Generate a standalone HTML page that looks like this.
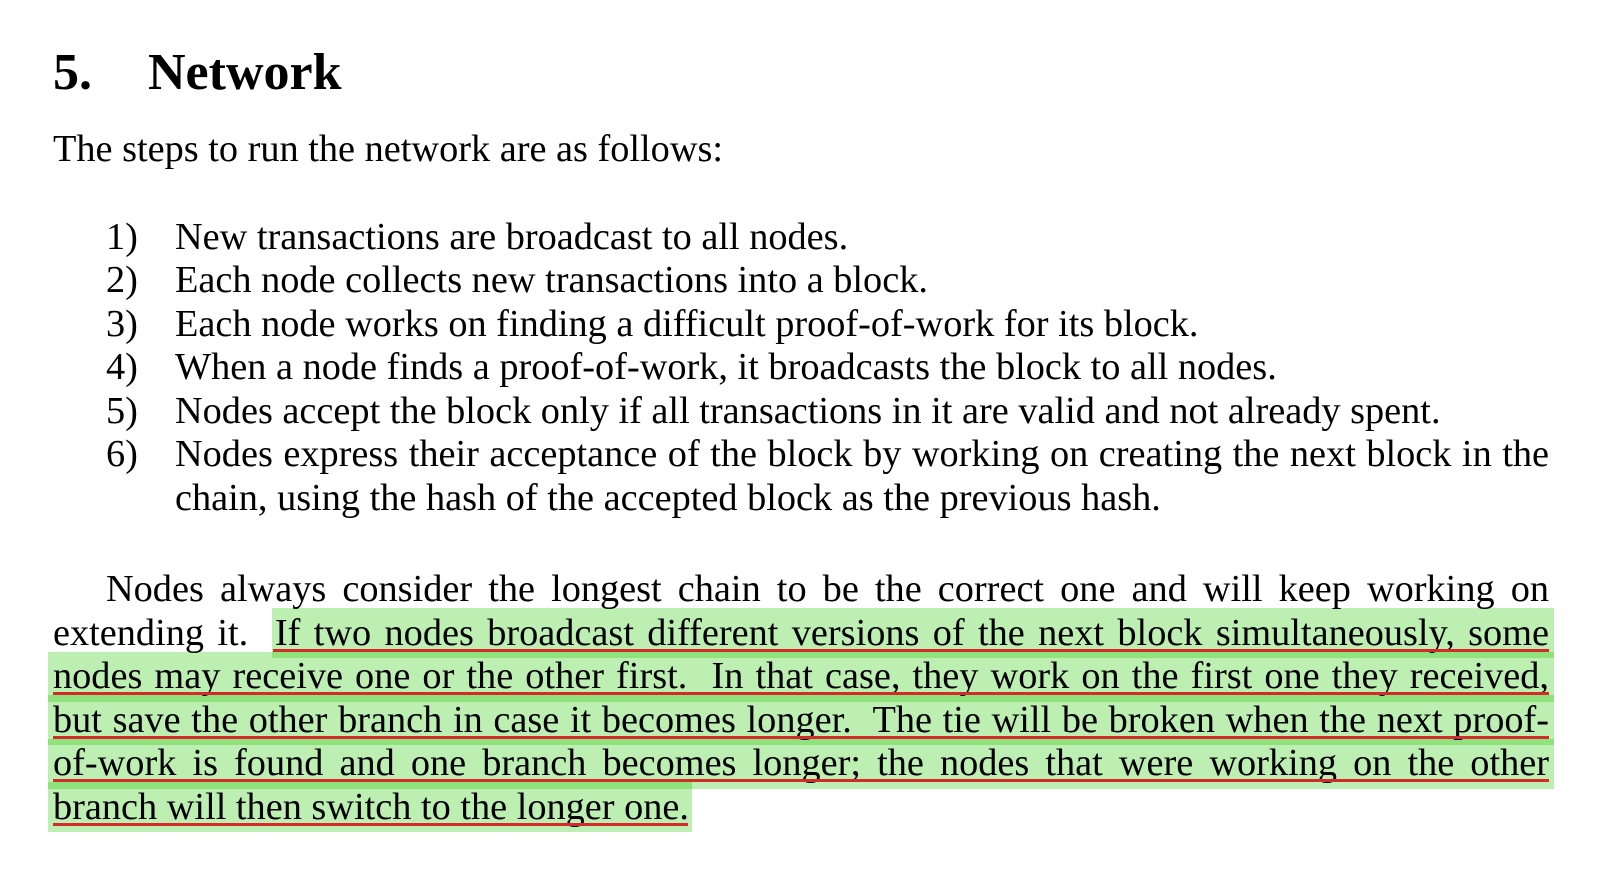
<!DOCTYPE html>
<html><head><meta charset="utf-8"><style>
html,body{margin:0;padding:0;background:#fff;width:1600px;height:894px;overflow:hidden}
body{position:relative;font-family:"Liberation Serif","Times New Roman",serif;color:#000}
.l{position:absolute;font-size:38.3px;line-height:38.3px;white-space:nowrap}
.j{white-space:normal;text-align:justify;text-align-last:justify}
.hl{position:absolute;background:rgba(35,198,0,0.3)}
.ul{position:absolute;height:3px;background:#d42a2a}
.h{position:absolute;font-size:52px;line-height:52px;font-weight:bold;white-space:nowrap}
</style></head><body>
<div class="h" style="left:53px;top:47px">5.</div>
<div class="h" style="left:148px;top:47px">Network</div>
<div class="l" style="left:53px;top:130px">The steps to run the network are as follows:</div>

<div class="l" style="left:106px;top:218px">1)</div><div class="l" style="left:175px;top:218px">New transactions are broadcast to all nodes.</div>
<div class="l" style="left:106px;top:261px">2)</div><div class="l" style="left:175px;top:261px">Each node collects new transactions into a block.</div>
<div class="l" style="left:106px;top:305px">3)</div><div class="l" style="left:175px;top:305px">Each node works on finding a difficult proof-of-work for its block.</div>
<div class="l" style="left:106px;top:348px">4)</div><div class="l" style="left:175px;top:348px">When a node finds a proof-of-work, it broadcasts the block to all nodes.</div>
<div class="l" style="left:106px;top:392px">5)</div><div class="l" style="left:175px;top:392px">Nodes accept the block only if all transactions in it are valid and not already spent.</div>
<div class="l" style="left:106px;top:435px">6)</div><div class="l j" style="left:175px;top:435px;width:1374px">Nodes express their acceptance of the block by working on creating the next block in the</div>
<div class="l" style="left:175px;top:479px">chain, using the hash of the accepted block as the previous hash.</div>

<div class="hl" style="left:272px;top:608px;width:1282px;height:50px"></div>
<div class="hl" style="left:48px;top:652px;width:1506px;height:50px"></div>
<div class="hl" style="left:48px;top:695px;width:1506px;height:50px"></div>
<div class="hl" style="left:48px;top:739px;width:1506px;height:50px"></div>
<div class="hl" style="left:48px;top:782px;width:644px;height:50px"></div>

<div class="l j" style="left:106px;top:570px;width:1443px">Nodes always consider the longest chain to be the correct one and will keep working on</div>
<div class="l j" style="left:53px;top:614px;width:1496px">extending it.&nbsp; If two nodes broadcast different versions of the next block simultaneously, some</div>
<div class="l j" style="left:53px;top:657px;width:1496px">nodes may receive one or the other first.&nbsp; In that case, they work on the first one they received,</div>
<div class="l j" style="left:53px;top:701px;width:1496px">but save the other branch in case it becomes longer.&nbsp; The tie will be broken when the next proof-</div>
<div class="l j" style="left:53px;top:744px;width:1496px">of-work is found and one branch becomes longer; the nodes that were working on the other</div>
<div class="l" style="left:53px;top:788px">branch will then switch to the longer one.</div>

<div class="ul" style="left:273px;top:649px;width:1276px"></div>
<div class="ul" style="left:53px;top:692px;width:1496px"></div>
<div class="ul" style="left:53px;top:736px;width:1496px"></div>
<div class="ul" style="left:53px;top:779px;width:1496px"></div>
<div class="ul" style="left:53px;top:823px;width:635px"></div>
</body></html>
